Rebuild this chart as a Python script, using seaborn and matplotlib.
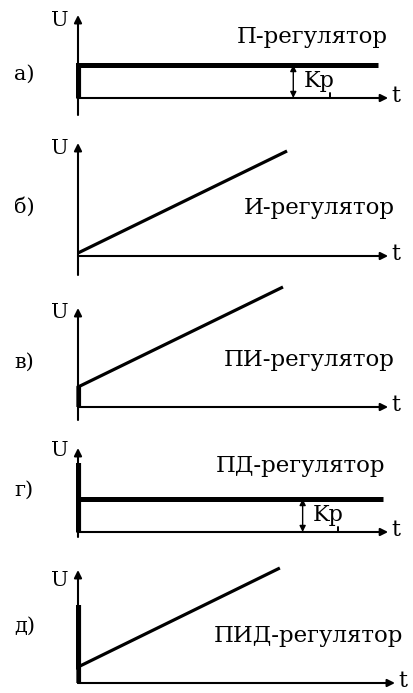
import matplotlib
matplotlib.use('Agg')
import matplotlib.pyplot as plt
import seaborn as sns

sns.set_theme(style='white')
plt.rcParams['font.family'] = ['DejaVu Serif', 'DejaVu Sans']
plt.rcParams['text.color'] = 'black'

# Panel labels and titles
labels = ['а)', 'б)', 'в)', 'г)', 'д)']
titles = ['П-регулятор', 'И-регулятор', 'ПИ-регулятор', 'ПД-регулятор', 'ПИД-регулятор']

# Output curves U(t) (t: 0..10, U in arbitrary units)
p_t = [0, 0, 9.6]
p_u = [0, 3.3, 3.3]
i_t = [0, 6.7]
i_u = [0.3, 10.5]
pi_t = [0, 0, 6.57]
pi_u = [0, 2.0, 12.0]
pd_t = [0, 0, 0, 9.78]
pd_u = [0, 6.9, 3.3, 3.3]
pid_t = [0, 0, 0, 6.47]
pid_u = [0, 7.8, 1.6, 11.5]

curves_t = [p_t, i_t, pi_t, pd_t, pid_t]
curves_u = [p_u, i_u, pi_u, pd_u, pid_u]
thick = [True, False, False, True, False]
# height of the jump at t=0 (drawn as a heavy stroke)
jump_u = [3.3, 0, 2.0, 6.9, 7.8]

# Kp marker: (t position, tick position, level) for П and ПД panels
kp_marks = {0: (6.9, 8.08, 3.3), 3: (7.2, 8.33, 3.3)}

# Layout in pixels (top, bottom, x-axis row) for each panel band
W, H = 413, 693
bands = [(0, 135, 98), (135, 280, 256), (280, 425, 407), (425, 555, 532), (555, 693, 683)]
axis_top = [8.3, 11.3, 9.9, 8.4, 11.3]
axis_bot = [-1.7, -1.9, -1.3, -0.5, 0.0]
t_tip = [9.94, 9.94, 9.94, 9.94, 10.16]
title_pos = [(9.94, 6.1), (10.16, 4.8), (10.16, 4.7), (9.84, 6.6), (10.42, 4.7)]
label_y = [2.4, 4.9, 4.5, 4.2, 5.7]
u_y = [7.8, 10.8, 9.5, 8.2, 10.3]

x0 = 78
tpx = 31.2   # pixels per t unit
upx = 10.0   # pixels per U unit

fig = plt.figure(figsize=(W / 100, H / 100), dpi=100)

for k in range(5):
    top, bot, y0 = bands[k]
    ax = fig.add_axes([0, 1 - bot / H, 1, (bot - top) / H])
    ax.set_xlim(-x0 / tpx, (W - x0) / tpx)
    ax.set_ylim(-(bot - y0) / upx, (y0 - top) / upx)
    ax.set_axis_off()

    # axes with arrows
    arr = dict(arrowstyle='-|>', lw=1.5, color='black', mutation_scale=11,
               shrinkA=0, shrinkB=0)
    ax.annotate('', xy=(0, axis_top[k]), xytext=(0, axis_bot[k]),
                arrowprops=arr, annotation_clip=False)
    ax.annotate('', xy=(t_tip[k], 0), xytext=(0, 0),
                arrowprops=arr, annotation_clip=False)

    sns.lineplot(x=curves_t[k], y=curves_u[k], ax=ax, sort=False, estimator=None,
                 color='black', lw=3.6 if thick[k] else 2.3, clip_on=False,
                 solid_capstyle='butt', solid_joinstyle='miter')
    if jump_u[k] > 0:
        ax.plot([0.02, 0.02], [0, jump_u[k]], color='black', lw=3.0,
                solid_capstyle='butt')

    if k in kp_marks:
        tk, tick, lvl = kp_marks[k]
        ax.annotate('', xy=(tk, lvl), xytext=(tk, 0),
                    arrowprops=dict(arrowstyle='<|-|>', lw=1.0, color='black',
                                    mutation_scale=9, shrinkA=0, shrinkB=0))
        ax.text(tk + 0.32, lvl * 0.5, 'Kp', fontsize=16, va='center', ha='left')
        ax.plot([tick, tick], [0, 0.5], color='black', lw=1.4)

    ax.text(title_pos[k][0], title_pos[k][1], titles[k], fontsize=16.5,
            ha='right', va='center')
    ax.text(-2.05, label_y[k], labels[k], fontsize=15, ha='left', va='center')
    ax.text(-0.3, u_y[k], 'U', fontsize=15, ha='right', va='center')
    ax.text(t_tip[k] + 0.1, 0.2, 't', fontsize=16, ha='left', va='center')

fig.savefig('out.png', dpi=100, facecolor='white')
